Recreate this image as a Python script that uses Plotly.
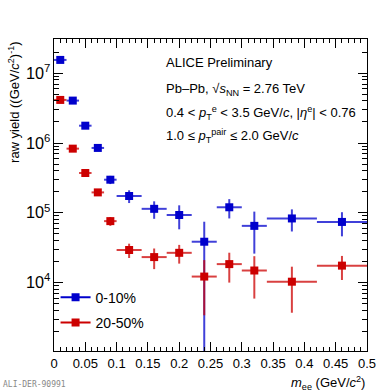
import plotly.graph_objects as go

# m_ee bin centres and half widths (GeV/c^2)
mee = [0.01, 0.03, 0.05, 0.07, 0.09, 0.12, 0.16, 0.20, 0.24, 0.28, 0.32, 0.38, 0.46]
mee_half = [0.01, 0.01, 0.01, 0.01, 0.01, 0.02, 0.02, 0.02, 0.02, 0.02, 0.02, 0.04, 0.04]

# 0-10% centrality
y_central = [1.55e7, 4.05e6, 1.77e6, 8.5e5, 2.98e5, 1.74e5, 1.14e5, 9.3e4, 3.85e4, 1.2e5, 6.5e4, 8.3e4, 7.4e4]
err_central_up = [3e5, 1.2e5, 9e4, 7e4, 4e4, 3.6e4, 3.2e4, 3.5e4, 3.6e4, 3.7e4, 3.9e4, 2.9e4, 2.8e4]
err_central_dn = [3e5, 1.2e5, 9e4, 7e4, 4e4, 3.6e4, 3.2e4, 3.5e4, 3.8e4, 3.7e4, 3.9e4, 2.9e4, 2.8e4]

# 20-50% centrality
y_semi = [4.14e6, 8.3e5, 3.72e5, 1.96e5, 7.6e4, 2.93e4, 2.32e4, 2.67e4, 1.22e4, 1.84e4, 1.49e4, 1.03e4, 1.75e4]
err_semi = [1e5, 5e4, 3e4, 2.2e4, 1.1e4, 6.8e3, 7.6e3, 8e3, 8.8e3, 8.4e3, 9e3, 6.6e3, 6.6e3]

BLUE = '#0000cc'
RED = '#cc0000'
FONT = 'Liberation Sans, Arial, sans-serif'

fig = go.Figure()

fig.add_trace(go.Scatter(
    x=mee, y=y_central, mode='markers',
    marker=dict(symbol='square', size=8, color=BLUE),
    error_x=dict(type='data', array=mee_half, color='rgba(0,0,204,0.75)', thickness=2, width=0),
    error_y=dict(type='data', array=err_central_up, arrayminus=err_central_dn,
                 color='rgba(0,0,204,0.75)', thickness=2, width=0),
    showlegend=False,
))
fig.add_trace(go.Scatter(
    x=mee, y=y_semi, mode='markers',
    marker=dict(symbol='square', size=8, color=RED),
    error_x=dict(type='data', array=mee_half, color='rgba(204,0,0,0.75)', thickness=2, width=0),
    error_y=dict(type='data', array=err_semi, color='rgba(204,0,0,0.75)', thickness=2, width=0),
    showlegend=False,
))

# legend entries (marker with a horizontal bar, ROOT style)
for name, col, grp in [('0-10%', BLUE, 'a'), ('20-50%', RED, 'b')]:
    fig.add_trace(go.Scatter(
        x=[None], y=[None], mode='lines+markers', name=name, legendgroup=grp,
        line=dict(color=col, width=2),
        marker=dict(symbol='square', size=8, color=col),
    ))

# header text
lines = [
    (0.926, 'ALICE Preliminary'),
    (0.837, 'Pb\u2013Pb, \u221a<i>s</i><sub>NN</sub> = 2.76 TeV'),
    (0.763, '0.4 < <i>p</i><sub>T</sub><sup>e</sup> < 3.5 GeV/<i>c</i>, |<i>\u03b7</i><sup>e</sup>| < 0.76'),
    (0.689, '1.0 \u2264 <i>p</i><sub>T</sub><sup>pair</sup> \u2264 2.0 GeV/<i>c</i>'),
]
for yy, txt in lines:
    fig.add_annotation(x=0.351, y=yy, xref='paper', yref='paper', text=txt,
                       showarrow=False, xanchor='left', yanchor='middle',
                       font=dict(size=13, color='black', family=FONT))

# axis titles
fig.add_annotation(x=1.0, y=-0.066, xref='paper', yref='paper',
                   text='<i>m</i><sub>ee</sub> (GeV/<i>c</i><sup>2</sup>)',
                   showarrow=False, xanchor='right', yanchor='top',
                   font=dict(size=13, color='black', family=FONT))
fig.add_annotation(x=-0.128, y=1.0, xref='paper', yref='paper',
                   text='raw yield ((GeV/<i>c</i><sup>2</sup>)<sup>-1</sup>)',
                   textangle=-90, showarrow=False, xanchor='center', yanchor='top',
                   font=dict(size=13, color='black', family=FONT))
fig.add_annotation(x=-0.168, y=-0.088, xref='paper', yref='paper', text='ALI-DER-90991',
                   showarrow=False, xanchor='left', yanchor='top',
                   font=dict(size=8, color='#888888', family='DejaVu Sans Mono, monospace'))

fig.update_xaxes(
    range=[0, 0.5], dtick=0.05, tick0=0,
    showline=True, linecolor='black', linewidth=1, mirror='ticks',
    ticks='inside', ticklen=9, tickcolor='black',
    minor=dict(dtick=0.01, ticks='inside', ticklen=4, tickcolor='black'),
    showgrid=False, zeroline=False,
    tickfont=dict(size=13, color='black', family=FONT),
)
fig.update_yaxes(
    type='log', range=[3.02, 7.49], dtick=1, exponentformat='power',
    showline=True, linecolor='black', linewidth=1, mirror='ticks',
    ticks='inside', ticklen=9, tickcolor='black',
    minor=dict(dtick='D1', ticks='inside', ticklen=5, tickcolor='black'),
    showgrid=False, zeroline=False,
    tickfont=dict(size=13, color='black', family=FONT),
)

fig.update_layout(
    width=391, height=391,
    margin=dict(l=54, r=24, t=39, b=40),
    paper_bgcolor='white', plot_bgcolor='white',
    legend=dict(x=0.005, y=0.222, xanchor='left', yanchor='top',
                bgcolor='rgba(0,0,0,0)', tracegroupgap=4,
                font=dict(size=14, color='black', family=FONT)),
)

# drop the default body margin so the figure sits at the page origin
fig.write_html("out.html", config={'displayModeBar': False},
               post_script="document.body.style.margin='0';")
